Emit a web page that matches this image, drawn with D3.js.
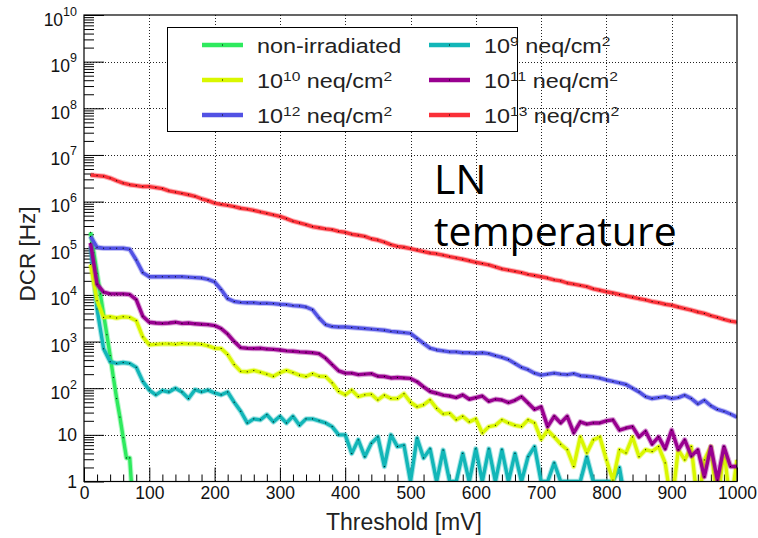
<!DOCTYPE html>
<html>
<head>
<meta charset="utf-8">
<script src="https://cdn.jsdelivr.net/npm/d3@7"></script>
<style>
  body { margin: 0; background: #fff; }
  text { font-family: "Liberation Sans", Arial, sans-serif; fill: #000; }
</style>
</head>
<body>
<div id="chart"></div>
<script>

const WIDTH = 758;
const HEIGHT = 538;

// Plot frame (pixels).
const FRAME = {'left': 84, 'right': 737, 'top': 15, 'bottom': 481.5};

// Thresholds in mV, sampled every 10 mV.
const thresholds = d3.range(10, 1001, 10);
const greenThresholds = [10, 15, 20, 25, 30, 35, 40, 45, 50, 55, 60, 65, 70, 75];

// DCR [Hz]; 0 = no counts.
const nonIrradiated = [2.2e5, 8e4, 2.9e4, 1.05e4, 3.8e3, 1.4e3, 500, 170, 60, 24, 8.7, 3.2, 3.2, 0];

const fluence1e9 = [
  1.1e5, 5e3, 700, 370, 340, 355, 340, 280, 140, 91,
  72, 89, 83, 100, 83, 60, 93, 83, 91, 79,
  72, 83, 50, 32, 18, 22, 21, 27, 19, 25,
  18, 25, 16, 22, 22, 20, 18, 15, 10, 10,
  4, 7.8, 3.4, 6.6, 9, 2.1, 10, 5.6, 6, 1,
  8.5, 3.2, 5, 1, 4.7, 1, 1, 4, 1, 5,
  1, 5, 1, 4.8, 1, 4, 1, 3.4, 5.6, 1,
  1, 2.5, 1, 1, 1, 1, 3.4, 1, 1, 1,
  1, 2, 0, 0, 0, 0, 0, 0, 0, 0,
  0, 0, 0, 0, 0, 0, 0, 0, 0, 0];

const fluence1e10 = [
  4.5e4, 7.5e3, 3.3e3, 3.4e3, 3.2e3, 3.4e3, 3.3e3, 2.8e3, 1.26e3, 850,
  870, 890, 890, 870, 910, 890, 890, 870, 810, 720,
  710, 525, 320, 230, 225, 240, 220, 200, 180, 215,
  240, 215, 190, 178, 205, 180, 178, 130, 85, 72,
  91, 66, 72, 74, 56, 71, 60, 60, 76, 50,
  40, 44, 56, 37, 28, 29, 21, 25, 19, 22,
  11, 15, 16, 21, 18, 16, 15, 21, 18, 8,
  12.6, 9, 6.3, 4.8, 2.1, 9, 4.1, 7.8, 9, 2.9,
  1.07, 4.8, 4.1, 9, 3.4, 4.8, 4.4, 5.6, 2.5, 0,
  4.8, 2.9, 5.6, 0, 2.9, 5.6, 0, 4.8, 0, 2.9];

const fluence1e11 = [
  1.3e5, 1.7e4, 1.15e4, 1.05e4, 1.05e4, 1.05e4, 1.02e4, 7.9e3, 3.5e3, 2.6e3,
  2.5e3, 2.45e3, 2.5e3, 2.6e3, 2.45e3, 2.5e3, 2.4e3, 2.35e3, 2.3e3, 2.2e3,
  1.9e3, 1.45e3, 1.0e3, 740, 720, 710, 720, 690, 680, 660,
  630, 620, 600, 590, 575, 550, 440, 320, 235, 210,
  210, 195, 200, 205, 180, 178, 166, 170, 166, 162,
  138, 107, 85, 78, 71, 68, 63, 72, 58, 63,
  68, 52, 58, 56, 49, 55, 66, 48, 35, 40,
  15, 25, 18, 25, 11, 19, 17, 18, 18, 20,
  21, 12.6, 14, 15, 9, 12, 6.3, 9, 5, 12.6,
  4.8, 7.8, 3.5, 4.8, 1.26, 5.6, 1.07, 5.6, 2.1, 2.1];

const fluence1e12 = [
  1.8e5, 1.05e5, 1e5, 1e5, 1e5, 1e5, 9.5e4, 5.6e4, 3.0e4, 2.45e4,
  2.45e4, 2.45e4, 2.45e4, 2.45e4, 2.45e4, 2.4e4, 2.35e4, 2.3e4, 2.15e4, 1.9e4,
  1.3e4, 8.3e3, 7.2e3, 6.9e3, 6.8e3, 6.8e3, 6.6e3, 6.6e3, 6.5e3, 6.3e3,
  6.2e3, 5.9e3, 5.8e3, 5.5e3, 4.8e3, 3.2e3, 2.3e3, 2.1e3, 2.05e3, 2.05e3,
  2.0e3, 1.95e3, 1.9e3, 1.85e3, 1.8e3, 1.75e3, 1.65e3, 1.6e3, 1.55e3, 1.5e3,
  1170, 910, 720, 660, 630, 600, 600, 575, 575, 560,
  575, 550, 500, 460, 410, 340, 280, 250, 210, 190,
  200, 210, 200, 195, 205, 185, 180, 175, 165, 150,
  140, 130, 120, 100, 83, 66, 60, 63, 66, 60,
  63, 71, 60, 46, 55, 42, 35, 32, 28, 24];

const fluence1e13 = [
  3.7e6, 3.6e6, 3.5e6, 3.2e6, 2.8e6, 2.5e6, 2.3e6, 2.2e6, 2.1e6, 2.1e6,
  2.0e6, 1.9e6, 1.7e6, 1.6e6, 1.5e6, 1.4e6, 1.3e6, 1.15e6, 1.05e6, 9.3e5,
  8.7e5, 8.3e5, 7.8e5, 7.2e5, 6.9e5, 6.5e5, 6.0e5, 5.6e5, 5.2e5, 4.8e5,
  4.3e5, 3.8e5, 3.5e5, 3.2e5, 2.9e5, 2.75e5, 2.6e5, 2.5e5, 2.3e5, 2.2e5,
  2.0e5, 1.9e5, 1.8e5, 1.6e5, 1.5e5, 1.35e5, 1.2e5, 1.1e5, 1.05e5, 9.8e4,
  9.1e4, 8.5e4, 7.9e4, 7.6e4, 7.1e4, 6.6e4, 6.2e4, 5.8e4, 5.4e4, 5.0e4,
  4.7e4, 4.4e4, 4.0e4, 3.6e4, 3.4e4, 3.2e4, 3.0e4, 2.75e4, 2.6e4, 2.45e4,
  2.3e4, 2.1e4, 2.0e4, 1.8e4, 1.7e4, 1.6e4, 1.5e4, 1.35e4, 1.26e4, 1.17e4,
  1.1e4, 1.02e4, 9.5e3, 8.9e3, 8.3e3, 7.8e3, 7.2e3, 6.8e3, 6.3e3, 6.0e3,
  5.5e3, 5.1e3, 4.7e3, 4.3e3, 4.0e3, 3.6e3, 3.3e3, 3.0e3, 2.75e3, 2.6e3];

// Legend labels ("10^n" gets a superscript).
const seriesNames = ["non-irradiated", "10^9", "10^10", "10^11", "10^12", "10^13"];
const seriesColors = ["#2eea5e", "#12b6b8", "#d9f700", "#990090", "#5252e4", "#fa3038"];

// Axis ticks.
const xMajorTicks = [0, 100, 200, 300, 400, 500, 600, 700, 800, 900, 1000];
const yDecades = [1, 1e1, 1e2, 1e3, 1e4, 1e5, 1e6, 1e7, 1e8, 1e9, 1e10];


window.onload = function() {

    var series = [
        {x: greenThresholds, y: nonIrradiated},
        {x: thresholds, y: fluence1e9},
        {x: thresholds, y: fluence1e10},
        {x: thresholds, y: fluence1e11},
        {x: thresholds, y: fluence1e12},
        {x: thresholds, y: fluence1e13}
    ];
    series.forEach(function (s, i) {
        s.name = seriesNames[i];
        s.color = seriesColors[i];
        s.points = s.x.map(function (t, j) { return [t, s.y[j]]; });
    });

    var svg = d3.select("#chart").append("svg")
                .attr("width", WIDTH)
                .attr("height", HEIGHT);

    svg.append("rect")
       .attr("width", WIDTH)
       .attr("height", HEIGHT)
       .attr("fill", "#fff");

    var x = d3.scaleLinear().domain([0, 1000]).range([FRAME.left, FRAME.right]);
    var y = d3.scaleLog().domain([1, 1e10]).range([FRAME.bottom, FRAME.top]);

    // Grid (dotted).
    var grid = svg.append("g")
                  .attr("stroke", "#222")
                  .attr("stroke-width", 1)
                  .attr("stroke-dasharray", "1,2");
    grid.selectAll(".gx")
        .data(xMajorTicks.slice(1, -1))
        .enter().append("line")
        .attr("x1", function (d) { return Math.round(x(d)) + 0.5; })
        .attr("x2", function (d) { return Math.round(x(d)) + 0.5; })
        .attr("y1", FRAME.top)
        .attr("y2", FRAME.bottom);
    grid.selectAll(".gy")
        .data(yDecades.slice(1, -1))
        .enter().append("line")
        .attr("x1", FRAME.left)
        .attr("x2", FRAME.right)
        .attr("y1", function (d) { return Math.round(y(d)) + 0.5; })
        .attr("y2", function (d) { return Math.round(y(d)) + 0.5; });

    // Axes, ROOT style ticks inside the frame.
    var xMinor = d3.range(0, 1001, 20).filter(function (d) { return d % 100 != 0; });
    var yMinor = [];
    yDecades.slice(0, -1).forEach(function (d) {
        for (var k = 2; k < 10; k++) yMinor.push(d * k);
    });

    var xAxis = svg.append("g")
                   .attr("transform", "translate(0," + FRAME.bottom + ")")
                   .call(d3.axisBottom(x).tickValues(xMajorTicks).tickSize(-14)
                           .tickPadding(5.5).tickFormat(d3.format("d")));
    xAxis.append("g")
         .call(d3.axisBottom(x).tickValues(xMinor).tickSize(-7).tickFormat(""));
    xAxis.selectAll(".domain").remove();
    xAxis.selectAll("text")
         .style("font-size", "17.5px")
         .style("fill", "#111");

    var yAxis = svg.append("g")
                   .attr("transform", "translate(" + FRAME.left + ",0)")
                   .call(d3.axisLeft(y).tickValues(yDecades).tickSize(-20).tickFormat(""));
    yAxis.append("g")
         .call(d3.axisLeft(y).tickValues(yMinor).tickSize(-10).tickFormat(""));
    yAxis.selectAll(".domain").remove();

    // Decade labels: 1, 10, then 10^n.
    yAxis.selectAll(".tick")
         .filter(function (d) { return yDecades.indexOf(d) >= 0; })
         .each(function (d) {
             var n = Math.round(Math.log10(d));
             var t = d3.select(this).append("text")
                       .attr("x", -7)
                       .attr("text-anchor", "end")
                       .style("font-size", "17.5px")
                       .style("fill", "#111");
             if (n == 0) {
                 t.attr("y", 6).text("1");
             } else if (n == 1) {
                 t.attr("y", 6).text("10");
             } else {
                 t.attr("y", 10);
                 t.append("tspan").text("10");
                 t.append("tspan").attr("dy", -10).style("font-size", "12.5px").text(n);
             }
         });

    // Data lines, clipped to the frame.
    svg.append("clipPath").attr("id", "plotclip")
       .append("rect")
       .attr("x", FRAME.left)
       .attr("y", FRAME.top)
       .attr("width", FRAME.right - FRAME.left)
       .attr("height", FRAME.bottom - FRAME.top);

    var line = d3.line()
                 .x(function (d) { return x(d[0]); })
                 .y(function (d) { return d[1] > 0 ? y(d[1]) : y(0.3); });

    var plot = svg.append("g").attr("clip-path", "url(#plotclip)");
    var groups = plot.selectAll(".series")
                     .data(series)
                     .enter()
                     .append("g");

    groups.append("path")
          .attr("d", function (d) { return line(d.points); })
          .attr("fill", "none")
          .attr("stroke", function (d) { return d.color; })
          .attr("stroke-opacity", 0.35)
          .attr("stroke-width", 5.5)
          .attr("stroke-linejoin", "round");
    groups.append("path")
          .attr("d", function (d) { return line(d.points); })
          .attr("fill", "none")
          .attr("stroke", function (d) { return d.color; })
          .attr("stroke-width", 3.4)
          .attr("stroke-linejoin", "round");
    groups.selectAll("rect")
          .data(function (d) { return d.points.filter(function (p) { return p[1] > 0; }); })
          .enter().append("rect")
          .attr("x", function (p) { return x(p[0]) - 0.5; })
          .attr("y", function (p) { return y(p[1]) - 0.5; })
          .attr("width", 1)
          .attr("height", 1)
          .attr("fill", "#000");

    // Frame.
    svg.append("rect")
       .attr("x", FRAME.left)
       .attr("y", FRAME.top)
       .attr("width", FRAME.right - FRAME.left)
       .attr("height", FRAME.bottom - FRAME.top)
       .attr("fill", "none")
       .attr("stroke", "#000")
       .attr("stroke-width", 1.2);

    // Legend (2 columns, row-major).
    var legend = svg.append("g");
    legend.append("rect")
          .attr("x", 167.5)
          .attr("y", 27.5)
          .attr("width", 350)
          .attr("height", 104)
          .attr("fill", "#fff")
          .attr("stroke", "#000")
          .attr("stroke-width", 1);

    var entries = legend.selectAll(".entry")
                        .data(series)
                        .enter()
                        .append("g")
                        .attr("transform", function (d, i) {
                            var col = i % 2, row = Math.floor(i / 2);
                            return "translate(" + (col == 0 ? 202 : 429) + "," + (45 + row * 35) + ")";
                        });
    entries.append("line")
           .attr("x1", 0).attr("x2", 41)
           .attr("stroke", function (d) { return d.color; })
           .attr("stroke-width", 4.5);
    entries.append("rect")
           .attr("x", 20).attr("y", -0.5)
           .attr("width", 1).attr("height", 1)
           .attr("fill", "#000");

    var labels = entries.append("text")
                        .attr("transform", "translate(55,8) scale(1.2,1)")
                        .style("font-size", "19.5px")
                        .style("fill", "#222");
    labels.each(function (d) {
        var t = d3.select(this);
        if (d.name.indexOf("^") < 0) {
            t.text(d.name);
            return;
        }
        t.append("tspan").text("10");
        t.append("tspan").attr("dy", -7).style("font-size", "13px").text(d.name.split("^")[1]);
        t.append("tspan").attr("dy", 7).text(" neq/cm");
        t.append("tspan").attr("dy", -7).style("font-size", "13px").text("2");
    });

    // Axis titles.
    svg.append("text")
       .attr("x", 404)
       .attr("y", 530)
       .attr("text-anchor", "middle")
       .style("font-size", "23px")
       .style("fill", "#222")
       .text("Threshold [mV]");

    svg.append("text")
       .attr("transform", "translate(35,254) rotate(-90)")
       .attr("text-anchor", "middle")
       .style("font-size", "22.5px")
       .style("fill", "#222")
       .text("DCR [Hz]");

    // Annotation.
    var note = svg.append("text")
                  .style("font-family", "'Open Sans', sans-serif")
                  .style("font-size", "41px")
                  .style("fill", "#000");
    note.append("tspan").attr("x", 434).attr("y", 194).text("LN");
    note.append("tspan").attr("x", 434).attr("y", 246).text("temperature");
};

</script>
</body>
</html>
